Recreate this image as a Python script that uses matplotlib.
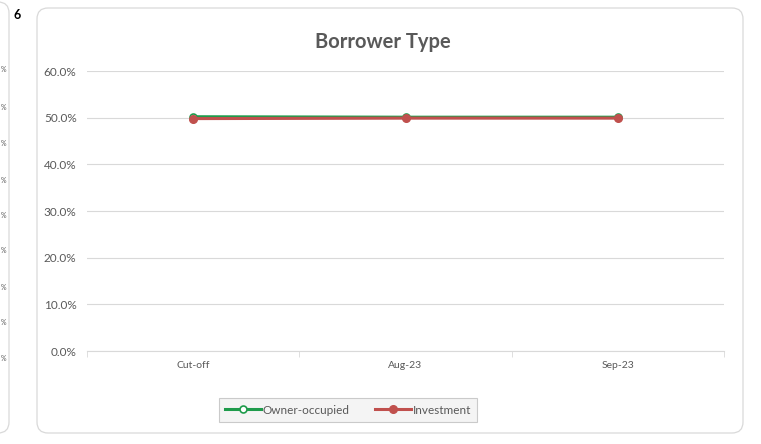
import matplotlib
matplotlib.use('Agg')
import matplotlib.pyplot as plt
from matplotlib.patches import FancyBboxPatch
from matplotlib.transforms import IdentityTransform
from matplotlib.ticker import FuncFormatter, FixedLocator

# Data
categories = ['Cut-off', 'Aug-23', 'Sep-23']
owner_occupied = [50.2, 50.1, 50.1]
investment = [49.8, 49.9, 49.9]
yticks = [0, 10, 20, 30, 40, 50, 60]
side_tick_rows = [70, 107, 143, 180, 215, 250, 287, 322, 358]

plt.rcParams['font.family'] = ['Lato', 'DejaVu Sans']

fig = plt.figure(figsize=(7.61, 4.44), dpi=100)
W, H = 761, 444

# chart frames (pixel coordinates)
px = IdentityTransform()
fig.add_artist(FancyBboxPatch((37, 11), 706, 425, boxstyle='round,pad=0,rounding_size=11',
                              transform=px, facecolor='white', edgecolor='#d9d9d9', lw=0.9,
                              zorder=-5))
fig.add_artist(FancyBboxPatch((-30, 11), 39, 431, boxstyle='round,pad=0,rounding_size=11',
                              transform=px, facecolor='white', edgecolor='#d9d9d9', lw=0.9,
                              zorder=-5))
for r in side_tick_rows:
    fig.text(1 / W, 1 - r / H, '%', ha='left', va='center', fontsize=5, color='#595959')
fig.text(14 / W, 1 - 15 / H, '6', ha='left', va='center', fontsize=9, fontweight='bold', color='black')

ax = fig.add_axes([87 / W, (H - 351) / H, (724 - 87) / W, 280 / H])
ax.set_facecolor('none')
x = list(range(len(categories)))
l1, = ax.plot(x, owner_occupied, color='#1e9b4b', lw=2.2, marker='o', ms=5,
              mfc='white', mec='#1e9b4b', mew=1.2, label='Owner-occupied', zorder=3)
l2, = ax.plot(x, investment, color='#c0504d', lw=2.2, marker='o', ms=5.5,
              mfc='#c0504d', mec='#c0504d', label='Investment', zorder=4)

ax.set_xlim(-0.5, len(categories) - 0.5)
ax.set_ylim(0, 60)
ax.set_yticks(yticks)
ax.yaxis.set_major_formatter(FuncFormatter(lambda v, p: f'{v:.1f}%'))
ax.grid(axis='y', color='#d9d9d9', lw=0.8)
ax.set_axisbelow(True)
ax.set_xticks(x)
ax.set_xticklabels(categories)
ax.xaxis.set_minor_locator(FixedLocator([-0.5, 0.5, 1.5, 2.5]))
ax.tick_params(axis='x', which='major', length=0, pad=7, labelsize=7.5, labelcolor='#595959')
ax.tick_params(axis='x', which='minor', length=4, color='#d9d9d9', direction='out')
ax.tick_params(axis='y', length=0, pad=7.5, labelsize=8.5, labelcolor='#595959')
for s in ['top', 'right', 'left']:
    ax.spines[s].set_visible(False)
ax.spines['bottom'].set_color('#d9d9d9')
ax.spines['bottom'].set_linewidth(0.8)

fig.text(383 / W, 1 - 42 / H, 'Borrower Type', ha='center', va='center',
         fontsize=14.5, fontweight='bold', color='#595959')

leg = fig.legend(handles=[l1, l2], loc='center', bbox_to_anchor=(348 / W, 1 - 410 / H),
                 ncol=2, frameon=True, fancybox=False, fontsize=8.5, handlelength=3.0,
                 columnspacing=2.2, handletextpad=0.15, borderpad=0.55, borderaxespad=0)
leg.get_frame().set_facecolor('#f2f2f2')
leg.get_frame().set_edgecolor('#bfbfbf')
leg.get_frame().set_linewidth(0.8)
for t in leg.get_texts():
    t.set_color('#595959')

fig.savefig('out.png', dpi=100)
